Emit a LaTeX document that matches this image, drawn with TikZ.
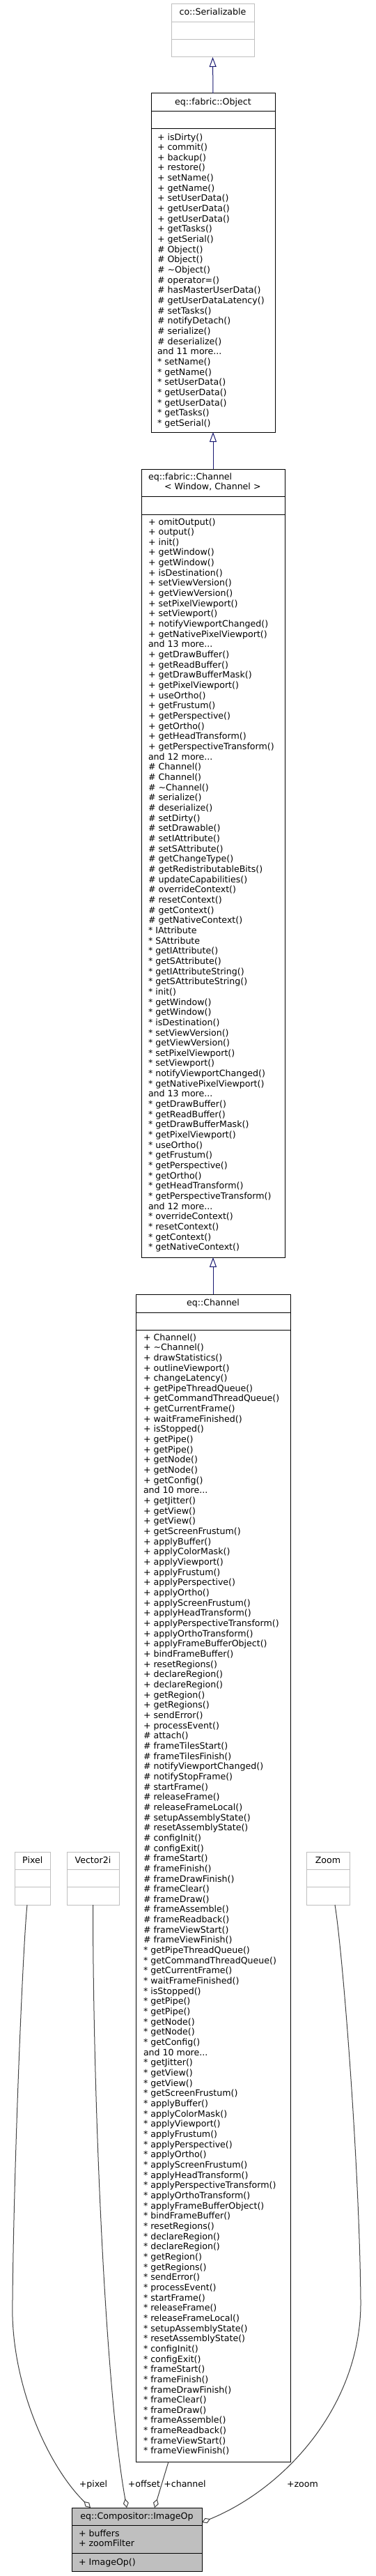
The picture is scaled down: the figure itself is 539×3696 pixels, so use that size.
\documentclass[tikz,border=0pt]{standalone}
\usepackage{fontspec}
\setmainfont{DejaVu Sans}
\usetikzlibrary{arrows.meta}
\definecolor{midblue}{HTML}{191970}
\definecolor{gfour}{HTML}{404040}
\definecolor{gsev}{HTML}{BFBFBF}
\newcommand\umlfont{\fontsize{12.6pt}{14.66pt}\selectfont}
\newcommand\ml[1]{\hbox{#1}}
\tikzset{
  cls/.style={draw=black, line width=1pt, inner sep=0pt, outer sep=0pt, anchor=north west, fill=white},
  ext/.style={draw=gsev, line width=1pt, inner sep=0pt, outer sep=0pt, anchor=north west, fill=white},
  sepline/.style={draw=black, line width=1pt},
  gsepline/.style={draw=gsev, line width=1pt},
  lst/.style={inner sep=0pt, outer sep=0pt, anchor=base west},
  ttl/.style={inner sep=0pt, outer sep=0pt, anchor=base, font=\umlfont},
  ttlw/.style={inner sep=0pt, outer sep=0pt, anchor=base west, font=\umlfont},
  lbl/.style={inner sep=0pt, outer sep=0pt, anchor=base, font=\umlfont},
  inherit/.style={draw=midblue, line width=1pt, -{Triangle[length=14pt, width=10pt, fill=white]}},
  usage/.style={draw=gfour, line width=1pt, -{Diamond[length=13pt, width=8pt, fill=white]}},
}
\begin{document}
\begin{tikzpicture}[x=1pt,y=1pt]
\path[use as bounding box, fill=white] (0,0) rectangle (539,-3696);

% co::Serializable
\node[ext, minimum width=119pt, minimum height=76pt] (ser) at (246,-6) {};
\draw[gsepline] ([yshift=-26pt]ser.north west) -- ([yshift=-26pt]ser.north east);
\draw[gsepline] ([yshift=-51pt]ser.north west) -- ([yshift=-51pt]ser.north east);
\node[ttl] (sert) at ([yshift=-16pt]ser.north) {co::Serializable};

% eq::fabric::Object
\node[cls, minimum width=178pt, minimum height=486pt] (obj) at (217,-134) {};
\draw[sepline] ([yshift=-25pt]obj.north west) -- ([yshift=-25pt]obj.north east);
\draw[sepline] ([yshift=-50pt]obj.north west) -- ([yshift=-50pt]obj.north east);
\node[ttl] (objt) at ([yshift=-16pt]obj.north) {eq::fabric::Object};
\node[lst] (objm) at ([xshift=9pt,yshift=-67pt]obj.north west) {\vtop{\umlfont
\ml{+ isDirty()}\ml{+ commit()}\ml{+ backup()}\ml{+ restore()}\ml{+ setName()}\ml{+ getName()}\ml{+ setUserData()}\ml{+ getUserData()}\ml{+ getUserData()}\ml{+ getTasks()}\ml{+ getSerial()}\ml{\# Object()}\ml{\# Object()}\ml{\# \textasciitilde Object()}\ml{\# operator=()}\ml{\# hasMasterUserData()}\ml{\# getUserDataLatency()}\ml{\# setTasks()}\ml{\# notifyDetach()}\ml{\# serialize()}\ml{\# deserialize()}\ml{and 11 more...}\ml{* setName()}\ml{* getName()}\ml{* setUserData()}\ml{* getUserData()}\ml{* getUserData()}\ml{* getTasks()}\ml{* getSerial()}}};

% eq::fabric::Channel
\node[cls, minimum width=206pt, minimum height=1131pt] (fch) at (203,-673) {};
\draw[sepline] ([yshift=-39pt]fch.north west) -- ([yshift=-39pt]fch.north east);
\draw[sepline] ([yshift=-65pt]fch.north west) -- ([yshift=-65pt]fch.north east);
\node[ttlw] (fcht1) at ([xshift=10pt,yshift=-15pt]fch.north west) {eq::fabric::Channel};
\node[ttlw] (fcht2) at ([xshift=33pt,yshift=-29.5pt]fch.north west) {< Window, Channel >};
\node[lst] (fchm) at ([xshift=10pt,yshift=-80pt]fch.north west) {\vtop{\umlfont
\ml{+ omitOutput()}\ml{+ output()}\ml{+ init()}\ml{+ getWindow()}\ml{+ getWindow()}\ml{+ isDestination()}\ml{+ setViewVersion()}\ml{+ getViewVersion()}\ml{+ setPixelViewport()}\ml{+ setViewport()}\ml{+ notifyViewportChanged()}\ml{+ getNativePixelViewport()}\ml{and 13 more...}%
\ml{+ getDrawBuffer()}\ml{+ getReadBuffer()}\ml{+ getDrawBufferMask()}\ml{+ getPixelViewport()}\ml{+ useOrtho()}\ml{+ getFrustum()}\ml{+ getPerspective()}\ml{+ getOrtho()}\ml{+ getHeadTransform()}\ml{+ getPerspectiveTransform()}\ml{and 12 more...}%
\ml{\# Channel()}\ml{\# Channel()}\ml{\# \textasciitilde Channel()}\ml{\# serialize()}\ml{\# deserialize()}\ml{\# setDirty()}\ml{\# setDrawable()}\ml{\# setIAttribute()}\ml{\# setSAttribute()}\ml{\# getChangeType()}\ml{\# getRedistributableBits()}\ml{\# updateCapabilities()}\ml{\# overrideContext()}\ml{\# resetContext()}\ml{\# getContext()}\ml{\# getNativeContext()}%
\ml{* IAttribute}\ml{* SAttribute}\ml{* getIAttribute()}\ml{* getSAttribute()}\ml{* getIAttributeString()}\ml{* getSAttributeString()}\ml{* init()}\ml{* getWindow()}\ml{* getWindow()}\ml{* isDestination()}\ml{* setViewVersion()}\ml{* getViewVersion()}\ml{* setPixelViewport()}\ml{* setViewport()}\ml{* notifyViewportChanged()}\ml{* getNativePixelViewport()}\ml{and 13 more...}%
\ml{* getDrawBuffer()}\ml{* getReadBuffer()}\ml{* getDrawBufferMask()}\ml{* getPixelViewport()}\ml{* useOrtho()}\ml{* getFrustum()}\ml{* getPerspective()}\ml{* getOrtho()}\ml{* getHeadTransform()}\ml{* getPerspectiveTransform()}\ml{and 12 more...}%
\ml{* overrideContext()}\ml{* resetContext()}\ml{* getContext()}\ml{* getNativeContext()}}};

% eq::Channel
\node[cls, minimum width=222pt, minimum height=1675pt] (ech) at (195,-1857) {};
\draw[sepline] ([yshift=-26pt]ech.north west) -- ([yshift=-26pt]ech.north east);
\draw[sepline] ([yshift=-51pt]ech.north west) -- ([yshift=-51pt]ech.north east);
\node[ttl] (echt) at ([yshift=-16pt]ech.north) {eq::Channel};
\node[lst] (echm) at ([xshift=11pt,yshift=-66pt]ech.north west) {\vtop{\umlfont
\ml{+ Channel()}\ml{+ \textasciitilde Channel()}\ml{+ drawStatistics()}\ml{+ outlineViewport()}\ml{+ changeLatency()}\ml{+ getPipeThreadQueue()}\ml{+ getCommandThreadQueue()}\ml{+ getCurrentFrame()}\ml{+ waitFrameFinished()}\ml{+ isStopped()}\ml{+ getPipe()}\ml{+ getPipe()}\ml{+ getNode()}\ml{+ getNode()}\ml{+ getConfig()}\ml{and 10 more...}%
\ml{+ getJitter()}\ml{+ getView()}\ml{+ getView()}\ml{+ getScreenFrustum()}\ml{+ applyBuffer()}\ml{+ applyColorMask()}\ml{+ applyViewport()}\ml{+ applyFrustum()}\ml{+ applyPerspective()}\ml{+ applyOrtho()}\ml{+ applyScreenFrustum()}\ml{+ applyHeadTransform()}\ml{+ applyPerspectiveTransform()}\ml{+ applyOrthoTransform()}\ml{+ applyFrameBufferObject()}\ml{+ bindFrameBuffer()}\ml{+ resetRegions()}\ml{+ declareRegion()}\ml{+ declareRegion()}\ml{+ getRegion()}\ml{+ getRegions()}\ml{+ sendError()}\ml{+ processEvent()}%
\ml{\# attach()}\ml{\# frameTilesStart()}\ml{\# frameTilesFinish()}\ml{\# notifyViewportChanged()}\ml{\# notifyStopFrame()}\ml{\# startFrame()}\ml{\# releaseFrame()}\ml{\# releaseFrameLocal()}\ml{\# setupAssemblyState()}\ml{\# resetAssemblyState()}\ml{\# configInit()}\ml{\# configExit()}\ml{\# frameStart()}\ml{\# frameFinish()}\ml{\# frameDrawFinish()}\ml{\# frameClear()}\ml{\# frameDraw()}\ml{\# frameAssemble()}\ml{\# frameReadback()}\ml{\# frameViewStart()}\ml{\# frameViewFinish()}%
\ml{* getPipeThreadQueue()}\ml{* getCommandThreadQueue()}\ml{* getCurrentFrame()}\ml{* waitFrameFinished()}\ml{* isStopped()}\ml{* getPipe()}\ml{* getPipe()}\ml{* getNode()}\ml{* getNode()}\ml{* getConfig()}\ml{and 10 more...}%
\ml{* getJitter()}\ml{* getView()}\ml{* getView()}\ml{* getScreenFrustum()}\ml{* applyBuffer()}\ml{* applyColorMask()}\ml{* applyViewport()}\ml{* applyFrustum()}\ml{* applyPerspective()}\ml{* applyOrtho()}\ml{* applyScreenFrustum()}\ml{* applyHeadTransform()}\ml{* applyPerspectiveTransform()}\ml{* applyOrthoTransform()}\ml{* applyFrameBufferObject()}\ml{* bindFrameBuffer()}\ml{* resetRegions()}\ml{* declareRegion()}\ml{* declareRegion()}\ml{* getRegion()}\ml{* getRegions()}\ml{* sendError()}\ml{* processEvent()}%
\ml{* startFrame()}\ml{* releaseFrame()}\ml{* releaseFrameLocal()}\ml{* setupAssemblyState()}\ml{* resetAssemblyState()}\ml{* configInit()}\ml{* configExit()}\ml{* frameStart()}\ml{* frameFinish()}\ml{* frameDrawFinish()}\ml{* frameClear()}\ml{* frameDraw()}\ml{* frameAssemble()}\ml{* frameReadback()}\ml{* frameViewStart()}\ml{* frameViewFinish()}}};

% Pixel, Vector2i, Zoom
\node[ext, minimum width=51.5pt, minimum height=76pt] (pix) at (21,-2657) {};
\draw[gsepline] ([yshift=-25pt]pix.north west) -- ([yshift=-25pt]pix.north east);
\draw[gsepline] ([yshift=-50pt]pix.north west) -- ([yshift=-50pt]pix.north east);
\node[ttl] (pixt) at ([yshift=-16pt]pix.north) {Pixel};

\node[ext, minimum width=75pt, minimum height=76pt] (vec) at (96,-2657) {};
\draw[gsepline] ([yshift=-25pt]vec.north west) -- ([yshift=-25pt]vec.north east);
\draw[gsepline] ([yshift=-50pt]vec.north west) -- ([yshift=-50pt]vec.north east);
\node[ttl] (vect) at ([yshift=-16pt]vec.north) {Vector2i};

\node[ext, minimum width=62pt, minimum height=76pt] (zm) at (440,-2657) {};
\draw[gsepline] ([yshift=-25pt]zm.north west) -- ([yshift=-25pt]zm.north east);
\draw[gsepline] ([yshift=-50pt]zm.north west) -- ([yshift=-50pt]zm.north east);
\node[ttl] (zmt) at ([yshift=-16pt]zm.north) {Zoom};

% eq::Compositor::ImageOp
\node[cls, fill=gsev, minimum width=187pt, minimum height=91pt] (imop) at (103,-3598) {};
\draw[sepline] ([yshift=-25pt]imop.north west) -- ([yshift=-25pt]imop.north east);
\draw[sepline] ([yshift=-65pt]imop.north west) -- ([yshift=-65pt]imop.north east);
\node[ttl] (imopt) at ([yshift=-16pt]imop.north) {eq::Compositor::ImageOp};
\node[lst] (imopa) at ([xshift=10pt,yshift=-41pt]imop.north west) {\vtop{\umlfont\ml{+ buffers}\ml{+ zoomFilter}}};
\node[lst] (imopm) at ([xshift=10pt,yshift=-82pt]imop.north west) {\vtop{\umlfont\ml{+ ImageOp()}}};

% inheritance
\draw[inherit] (obj.north) -- (ser.south);
\draw[inherit] (fch.north) -- (obj.south);
\draw[inherit] (ech.north) -- (fch.south);

% usage
\coordinate (pbend) at (18,-3300);
\coordinate (zbend) at (518,-3300);
\draw[usage] ([xshift=18pt]pix.south west) .. controls (33,-2790) and (20,-3100) .. (pbend)
   .. controls (14,-3420) and (70,-3540) .. ([xshift=27pt]imop.north west);
\draw[usage] (vec.south) .. controls (133.5,-3000) and (150,-3420) .. ([xshift=79pt]imop.north west);
\draw[usage] ([xshift=47pt]ech.south west) -- ([xshift=119pt]imop.north west);
\draw[usage] ([xshift=10pt]zm.south) .. controls (492,-2800) and (516,-3100) .. (zbend)
   .. controls (520,-3450) and (410,-3570) .. ([yshift=-21pt]imop.north east);

\node[lbl] (lpix) at (134,-3568.5) {+pixel};
\node[lbl] (loff) at (207,-3568.5) {+offset};
\node[lbl] (lch) at (265.5,-3568.5) {+channel};
\node[lbl] (lzm) at (434.5,-3568.5) {+zoom};
\end{tikzpicture}
\end{document}
